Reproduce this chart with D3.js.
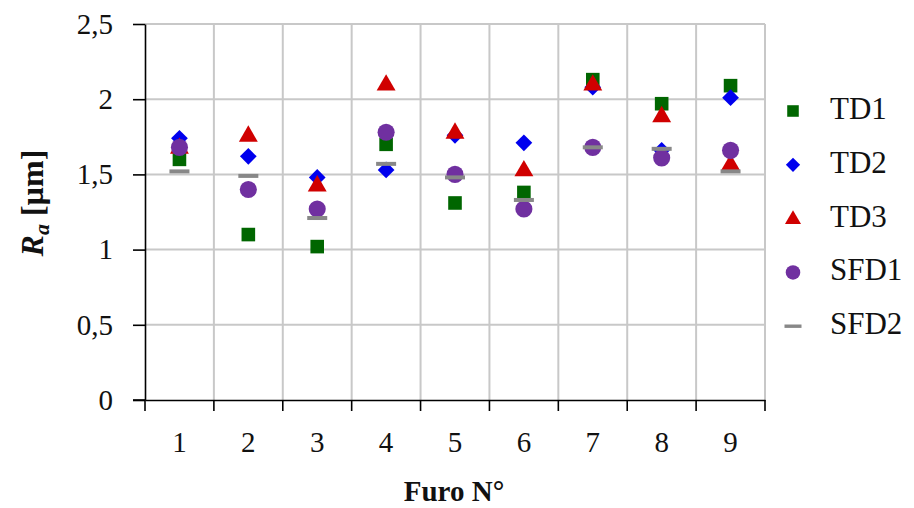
<!DOCTYPE html>
<html>
<head>
<meta charset="utf-8">
<script src="https://cdn.jsdelivr.net/npm/d3@7"></script>
<style>
  body { margin: 0; background: #fff; }
  svg text { font-family: "Liberation Serif", "Times New Roman", serif; fill: #111; }
  .grid line { stroke: #c8c8c8; stroke-width: 2px; }
  .axis path, .axis line { stroke: #000; stroke-width: 1.6px; }
</style>
</head>
<body>
<svg width="914" height="508"></svg>
<script>
const furos = [1, 2, 3, 4, 5, 6, 7, 8, 9];
const td1  = [1.60, 1.10, 1.02, 1.70, 1.31, 1.38, 2.13, 1.97, 2.09];
const td2  = [1.74, 1.62, 1.48, 1.53, 1.76, 1.71, 2.08, 1.66, 2.01];
const td3  = [1.68, 1.76, 1.43, 2.10, 1.78, 1.53, 2.10, 1.89, 1.57];
const sfd1 = [1.68, 1.40, 1.27, 1.78, 1.50, 1.27, 1.68, 1.61, 1.66];
const sfd2 = [1.52, 1.49, 1.21, 1.57, 1.48, 1.33, 1.68, 1.67, 1.52];
const yTicks = [0, 0.5, 1, 1.5, 2, 2.5];

const series = [
  {name: 'TD1', values: td1, color: '#006600', shape: 'square'},
  {name: 'TD2', values: td2, color: '#0000ee', shape: 'diamond'},
  {name: 'TD3', values: td3, color: '#d00000', shape: 'triangle'},
  {name: 'SFD1', values: sfd1, color: '#7030a0', shape: 'circle'},
  {name: 'SFD2', values: sfd2, color: '#888888', shape: 'dash'}
];

const svg = d3.select('svg');
const x = d3.scaleBand().domain(furos).range([145, 765]);
const y = d3.scaleLinear().domain([0, 2.5]).range([400, 24]);

// grid
const grid = svg.append('g').attr('class', 'grid');
grid.selectAll('.h').data(yTicks.slice(1)).enter().append('line')
  .attr('x1', 145).attr('x2', 765)
  .attr('y1', d => y(d)).attr('y2', d => y(d));
grid.selectAll('.v').data(furos).enter().append('line')
  .attr('x1', d => x(d) + x.bandwidth()).attr('x2', d => x(d) + x.bandwidth())
  .attr('y1', y(2.5)).attr('y2', y(0));

// axes
const yAxis = svg.append('g').attr('class', 'axis')
  .attr('transform', 'translate(145,0)')
  .call(d3.axisLeft(y).tickValues(yTicks).tickSize(12).tickPadding(20).tickSizeOuter(0)
    .tickFormat(d => String(d).replace('.', ',')));
yAxis.selectAll('text').attr('font-size', 29);

const xAxis = svg.append('g').attr('class', 'axis')
  .attr('transform', 'translate(0,400)')
  .call(d3.axisBottom(x).tickSize(0).tickSizeOuter(0));
xAxis.selectAll('text').attr('font-size', 29).attr('dy', 0).attr('y', 52);
xAxis.selectAll('.edge').data([furos[0]].concat(furos)).enter().append('line')
  .attr('class', 'edge')
  .attr('x1', (d, i) => i === 0 ? x(d) : x(d) + x.bandwidth())
  .attr('x2', (d, i) => i === 0 ? x(d) : x(d) + x.bandwidth())
  .attr('y1', 0).attr('y2', 11);
yAxis.append('line').attr('x1', -12).attr('x2', 0).attr('y1', y(0)).attr('y2', y(0));

// marker drawing
function marker(sel, shape, color) {
  if (shape === 'dash') {
    sel.append('rect').attr('x', -10).attr('y', -2).attr('width', 20).attr('height', 4).attr('fill', color);
    return;
  }
  const t = {
    square: d3.symbolSquare, diamond: d3.symbolSquare,
    triangle: d3.symbolTriangle, circle: d3.symbolCircle
  }[shape];
  const size = {square: 185, diamond: 140, triangle: 155, circle: 230}[shape];
  sel.append('path')
    .attr('d', d3.symbol().type(t).size(size)())
    .attr('transform', shape === 'diamond' ? 'rotate(45)' : shape === 'triangle' ? 'translate(0,1)' : null)
    .attr('fill', color);
}

series.forEach(s => {
  svg.append('g').selectAll('g').data(s.values).enter().append('g')
    .attr('transform', (d, i) => `translate(${x(furos[i]) + x.bandwidth() / 2},${y(d)})`)
    .each(function() { marker(d3.select(this), s.shape, s.color); });
});

// legend
const legend = svg.append('g').attr('transform', 'translate(793,111)');
series.forEach((s, i) => {
  const g = legend.append('g').attr('transform', `translate(0,${i * 53.8})`);
  const m = g.append('g').attr('transform', 'scale(0.85)');
  marker(m, s.shape, s.color);
  g.append('text').attr('x', 37).attr('y', 8).attr('font-size', 31).text(s.name);
});

// axis titles
svg.append('text').attr('x', 454).attr('y', 501).attr('text-anchor', 'middle')
  .attr('font-size', 29).attr('font-weight', 'bold').text('Furo N°');

const yt = svg.append('text').attr('transform', 'translate(43,203) rotate(-90)')
  .attr('text-anchor', 'middle').attr('font-size', 32).attr('font-weight', 'bold');
yt.append('tspan').attr('font-style', 'italic').text('R');
yt.append('tspan').attr('font-style', 'italic').attr('font-size', 22).attr('dy', 6).text('a');
yt.append('tspan').attr('dy', -6).text(' [µm]');
</script>
</body>
</html>
